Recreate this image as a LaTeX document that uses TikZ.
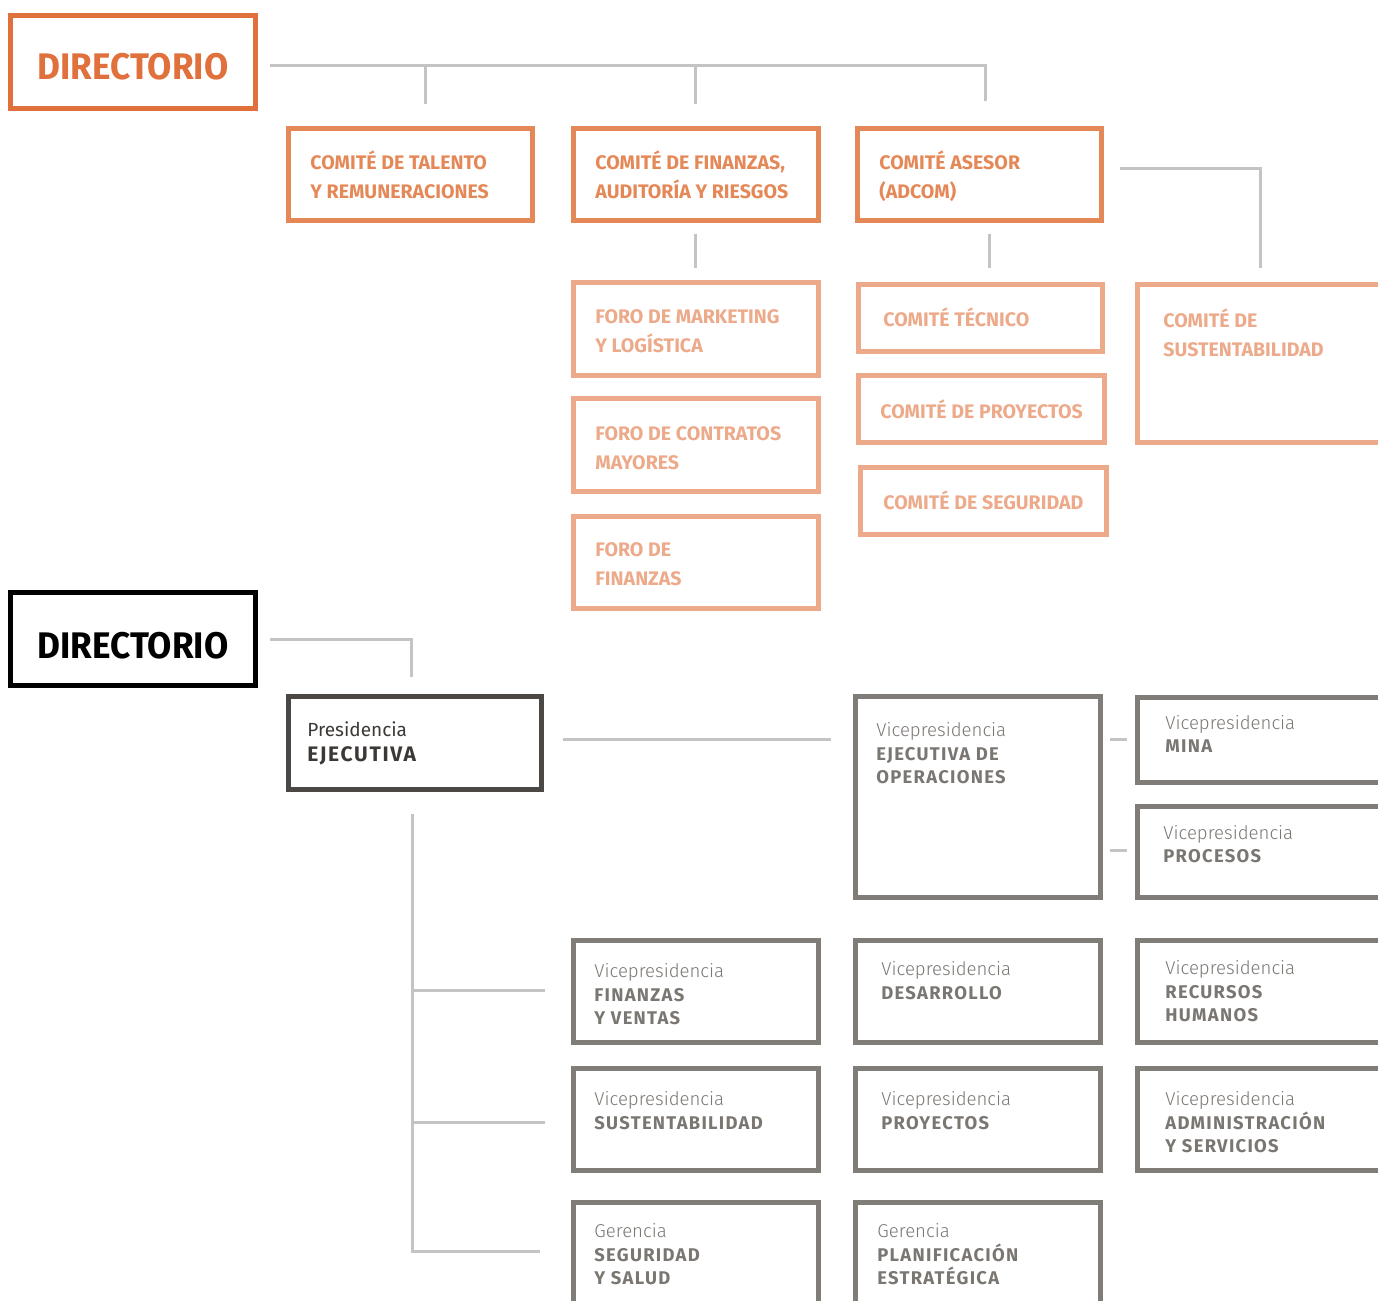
\documentclass[tikz,border=0pt]{standalone}
\usepackage{fontspec}
\setmainfont{Fira Sans}
\newfontfamily\orf{Fira Sans}[FakeStretch=0.95]
\newfontfamily\cmf{Fira Sans}
\newfontfamily\gyf{Fira Sans}[LetterSpace=7]
\newfontfamily\pbf{Fira Sans}[LetterSpace=8]
\newfontfamily\lightf{Fira Sans Light}
\usetikzlibrary{calc}
\definecolor{orD}{RGB}{224,113,61}
\definecolor{orM}{RGB}{229,136,88}
\definecolor{orL}{RGB}{236,170,138}
\definecolor{lineG}{RGB}{196,196,196}
\definecolor{gryB}{RGB}{128,124,120}
\definecolor{gryT}{RGB}{122,118,114}
\definecolor{presB}{RGB}{75,71,68}
\definecolor{presT}{RGB}{60,56,53}
% box: style, x1, y1, x2, y2, name  (outer edges in px)
\newcommand\bx[6]{%
  \pgfmathsetmacro\bxw{(#4-#2-5)*0.5}%
  \pgfmathsetmacro\bxh{(#5-#3-5)*0.5}%
  \node[#1, minimum width=\bxw pt, minimum height=\bxh pt] (#6) at ({(#2+#4)/2},{(#3+#5)/2}) {};}
% text: style, name, x, baseline y, text
\newcommand\tx[5]{%
  \node[#1, anchor=north west, inner sep=0pt, align=left] (#2) at (#3,{#4-24}) {\rule{0pt}{12pt}#5};}
\newcommand\vl[1]{{\lightf\fontsize{9.3}{11.75}\selectfont #1}}
\newcommand\vb[1]{{\bfseries #1}}
\begin{document}
\begin{tikzpicture}[x=0.5pt,y=-0.5pt,
  basebox/.style={draw, rectangle, line width=2.5pt, inner sep=0pt, fill=none},
  dbox/.style={basebox, draw=orD},
  kbox/.style={basebox, draw=black},
  o1box/.style={basebox, draw=orM},
  o2box/.style={basebox, draw=orL},
  pbox/.style={basebox, draw=presB},
  vbox/.style={basebox, draw=gryB},
  dtext/.style={font=\orf\bfseries\fontsize{18.5}{22}\selectfont, inner sep=0pt},
  o1text/.style={text=orM, font=\cmf\bfseries\fontsize{9.8}{14.1}\selectfont},
  o2text/.style={text=orL, font=\cmf\bfseries\fontsize{9.8}{14.1}\selectfont},
  vtext/.style={text=gryT, font=\gyf\fontsize{9.2}{11.75}\selectfont},
  ptext/.style={text=presT, font=\fontsize{9.5}{12.5}\selectfont},
  conn/.style={draw=lineG, line width=1.5pt}]
\useasboundingbox (0,0) rectangle (1378,1301);
\clip (0,0) rectangle (1378,1301);

% ---------- top part ----------
\bx{dbox}{8}{13}{258}{111}{dir1}
\node[dtext, text=orD, anchor=base] (dir1t) at (133,79) {DIRECTORIO};

\bx{o1box}{286}{126}{535}{223}{talento}
\tx{o1text}{talentot}{310}{169.5}{COMITÉ DE TALENTO\\Y REMUNERACIONES}
\bx{o1box}{571}{126}{821}{223}{finanzas}
\tx{o1text}{finanzast}{595}{169.5}{COMITÉ DE FINANZAS,\\AUDITORÍA Y RIESGOS}
\bx{o1box}{855}{126}{1104}{223}{asesor}
\tx{o1text}{asesort}{879}{169.5}{COMITÉ ASESOR\\(ADCOM)}

\bx{o2box}{571}{280}{821}{378}{mkt}
\tx{o2text}{mktt}{595}{323.5}{FORO DE MARKETING\\Y LOGÍSTICA}
\bx{o2box}{571}{396}{821}{494}{contr}
\tx{o2text}{contrt}{595}{440.5}{FORO DE CONTRATOS\\MAYORES}
\bx{o2box}{571}{514}{821}{611}{forofin}
\tx{o2text}{forofint}{595}{556.5}{FORO DE\\FINANZAS}

\bx{o2box}{856}{282}{1105}{354}{tecnico}
\tx{o2text}{tecnicot}{883}{326.5}{COMITÉ TÉCNICO}
\bx{o2box}{856}{373}{1107}{445}{proy}
\tx{o2text}{proyt}{880}{418.5}{COMITÉ DE PROYECTOS}
\bx{o2box}{858}{465}{1109}{537}{segur}
\tx{o2text}{segurt}{883}{509.5}{COMITÉ DE SEGURIDAD}
\bx{o2box}{1135}{282}{1400}{445}{sust}
\tx{o2text}{sustt}{1163}{327.5}{COMITÉ DE\\SUSTENTABILIDAD}

% top connectors
\draw[conn] ($(dir1.east)+(12,3)$) -| ($(asesor.north)+(5.5,-25)$);
\draw[conn] ($(talento.north)+(14.5,-22)$) -- ($(talento.north)+(14.5,-61)$);
\draw[conn] ($(finanzas.north)+(-1,-22)$) -- ($(finanzas.north)+(-1,-61)$);
\draw[conn] ($(finanzas.south)+(-1,11)$) -- ($(mkt.north)+(-1,-12)$);
\draw[conn] ($(asesor.south)+(9.5,11)$) -- ($(tecnico.north)+(8.5,-14)$);
\draw[conn] ($(asesor.east)+(16,-6.5)$) -| ($(sust.north)+(-7.5,-14)$);

% ---------- bottom part ----------
\bx{kbox}{8}{590}{258}{688}{dir2}
\node[dtext, text=black, anchor=base] (dir2t) at (133,658) {DIRECTORIO};

\bx{pbox}{286}{694}{544}{792}{pres}
\tx{ptext}{prest}{307}{736.5}{Presidencia\\{\pbf\bfseries\fontsize{10.5}{12.5}\selectfont EJECUTIVA}}

\bx{vbox}{853}{694}{1103}{900}{vpops}
\tx{vtext}{vpopst}{876}{736.5}{\vl{Vicepresidencia}\\\vb{EJECUTIVA DE}\\\vb{OPERACIONES}}
\bx{vbox}{1135}{695}{1400}{785}{mina}
\tx{vtext}{minat}{1165}{729}{\vl{Vicepresidencia}\\\vb{MINA}}
\bx{vbox}{1135}{804}{1400}{900}{proc}
\tx{vtext}{proct}{1163}{839}{\vl{Vicepresidencia}\\\vb{PROCESOS}}

\bx{vbox}{571}{938}{821}{1045}{vpfin}
\tx{vtext}{vpfint}{594}{977.5}{\vl{Vicepresidencia}\\\vb{FINANZAS}\\\vb{Y VENTAS}}
\bx{vbox}{853}{938}{1103}{1045}{desa}
\tx{vtext}{desat}{881}{975.5}{\vl{Vicepresidencia}\\\vb{DESARROLLO}}
\bx{vbox}{1135}{938}{1400}{1045}{rrhh}
\tx{vtext}{rrhht}{1165}{974.5}{\vl{Vicepresidencia}\\\vb{RECURSOS}\\\vb{HUMANOS}}

\bx{vbox}{571}{1066}{821}{1173}{vpsust}
\tx{vtext}{vpsustt}{594}{1105.5}{\vl{Vicepresidencia}\\\vb{SUSTENTABILIDAD}}
\bx{vbox}{853}{1066}{1103}{1173}{vpproy}
\tx{vtext}{vpproyt}{881}{1105.5}{\vl{Vicepresidencia}\\\vb{PROYECTOS}}
\bx{vbox}{1135}{1066}{1400}{1173}{admin}
\tx{vtext}{admint}{1165}{1105.5}{\vl{Vicepresidencia}\\\vb{ADMINISTRACIÓN}\\\vb{Y SERVICIOS}}

\bx{vbox}{571}{1200}{821}{1340}{segsal}
\tx{vtext}{segsalt}{594}{1237.5}{\vl{Gerencia}\\\vb{SEGURIDAD}\\\vb{Y SALUD}}
\bx{vbox}{853}{1200}{1103}{1340}{plan}
\tx{vtext}{plant}{877}{1237.5}{\vl{Gerencia}\\\vb{PLANIFICACIÓN}\\\vb{ESTRATÉGICA}}

% bottom connectors
\draw[conn] ($(dir2.east)+(12,0)$) -| ($(pres.north)+(-4,-17)$);
\draw[conn] ($(pres.east)+(19,-4)$) -- ($(vpops.west)+(-22,-58)$);
\draw[conn] ($(mina.west)+(-25,-1)$) -- ($(mina.west)+(-8,-1)$);
\draw[conn] ($(proc.west)+(-25,-2)$) -- ($(proc.west)+(-8,-2)$);
\draw[conn] ($(pres.south)+(-3,22)$) |- ($(segsal.west)+(-31,-19)$);
\draw[conn] ($(vpfin.west)+(-159,-1.5)$) -- ($(vpfin.west)+(-26,-1.5)$);
\draw[conn] ($(vpsust.west)+(-159,2.5)$) -- ($(vpsust.west)+(-26,2.5)$);
\end{tikzpicture}
\end{document}
